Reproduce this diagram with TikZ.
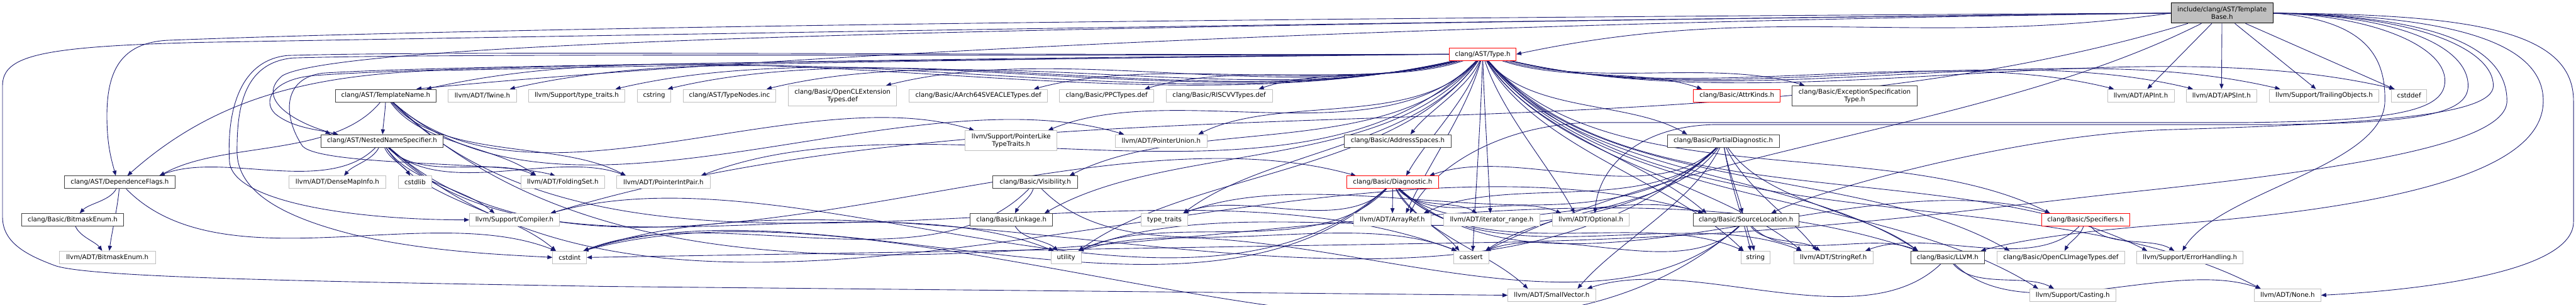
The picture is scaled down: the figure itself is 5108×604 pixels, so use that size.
\documentclass[tikz,border=0pt]{standalone}
\usepackage{fontspec}
\setmainfont{DejaVu Sans}
\usetikzlibrary{arrows.meta,calc}
\pgfdeclarelayer{bg}
\pgfsetlayers{bg,main}
\definecolor{edgec}{HTML}{191970}
\definecolor{grayb}{HTML}{BFBFBF}
\definecolor{darkb}{HTML}{404040}
\definecolor{redb}{HTML}{FF0000}
% shallow connector (nearly straight)
\newcommand\edgeS[2]{\draw[edg] let \p1=(#1.center),\p2=(#2.center),\p3=(#2.north east),\n1={atan2(\y2-\y1,\x2-\x1)},\n2={0.88*\n1-10.8},\n3={0.88*\n1+169.2},\n4={0.8*(\x3-\x2)},\n5={max(-\n4,min(\n4,0.15*(\x1-\x2)))} in (#1) to[out=\n2,in=\n3,looseness=0.8] ([xshift=\n5]#2.north);}
% connector that leaves the source steeply downwards
\newcommand\edgeA[2]{\draw[edg] let \p1=(#1.center),\p2=(#2.center),\p3=(#2.north east),\n1={atan2(\y2-\y1,\x2-\x1)},\n2={0.55*\n1-40.5},\n3={0.85*\n1+166.5},\n4={0.8*(\x3-\x2)},\n5={max(-\n4,min(\n4,0.15*(\x1-\x2)))} in (#1) to[out=\n2,in=\n3,looseness=0.8] ([xshift=\n5]#2.north);}
\newcommand\edgesFrom[2]{\foreach \tg in {#2} {\edgeA{#1}{\tg}}}
\newcommand\edgesShallow[2]{\foreach \tg in {#2} {\edgeS{#1}{\tg}}}
\begin{document}
\begin{tikzpicture}[x=0.1pt,y=0.1pt,
  box/.style={draw, fill=white, line width=0.11pt, inner sep=0pt, minimum height=2.5pt, font=\fontsize{1.28}{1.5}\selectfont, align=center},
  gb/.style={box, draw=grayb},
  db/.style={box, draw=darkb},
  rb/.style={box, draw=redb},
  edg/.style={color=edgec, line width=0.11pt, -{Triangle[length=1pt,width=0.8pt]}}]
\useasboundingbox (0,0) rectangle (5108,-604);
% row 0
\node[box, draw=black, fill=grayb, minimum width=20.2pt, minimum height=4pt] (root) at (4406,-26) {include/clang/AST/Template\\Base.h};
% row 1
\node[rb, minimum width=13.2pt] (type) at (2940,-107.5) {clang/AST/Type.h};
% row 2
\node[db, minimum width=20pt] (tn) at (765,-189.5) {clang/AST/TemplateName.h};
\node[gb, minimum width=13.5pt] (twine) at (956.5,-189.5) {llvm/ADT/Twine.h};
\node[gb, minimum width=19.1pt] (ttraitsh) at (1143.5,-189.5) {llvm/Support/type\_traits.h};
\node[gb, minimum width=6.6pt] (cstring) at (1297,-189.5) {cstring};
\node[gb, minimum width=18.3pt] (typenodes) at (1446.5,-189.5) {clang/AST/TypeNodes.inc};
\node[gb, minimum width=21.5pt, minimum height=4pt] (oclext) at (1670.5,-190) {clang/Basic/OpenCLExtension\\Types.def};
\node[gb, minimum width=27.4pt] (aarch) at (1940,-189.5) {clang/Basic/AArch64SVEACLETypes.def};
\node[gb, minimum width=18.7pt] (ppc) at (2194.5,-189.5) {clang/Basic/PPCTypes.def};
\node[gb, minimum width=21.1pt] (riscv) at (2417.5,-189.5) {clang/Basic/RISCVVTypes.def};
\node[rb, minimum width=17.2pt] (attr) at (3444,-189.5) {clang/Basic/AttrKinds.h};
\node[db, minimum width=24.7pt, minimum height=4pt] (exc) at (3677.5,-190) {clang/Basic/ExceptionSpecification\\Type.h};
\node[gb, minimum width=13.2pt] (apint) at (4245,-189.5) {llvm/ADT/APInt.h};
\node[gb, minimum width=14pt] (apsint) at (4405,-189.5) {llvm/ADT/APSInt.h};
\node[gb, minimum width=21.7pt] (trail) at (4608.5,-189.5) {llvm/Support/TrailingObjects.h};
\node[gb, minimum width=7pt] (cstddef) at (4777,-189.5) {cstddef};
% row 3
\node[db, minimum width=24.3pt] (nns) at (757.5,-279.5) {clang/AST/NestedNameSpecifier.h};
\node[gb, minimum width=18.2pt, minimum height=4pt] (pltt) at (2005,-279) {llvm/Support/PointerLike\\TypeTraits.h};
\node[gb, minimum width=18.3pt] (punion) at (2302.5,-279.5) {llvm/ADT/PointerUnion.h};
\node[db, minimum width=21.1pt] (addr) at (2771.5,-279.5) {clang/Basic/AddressSpaces.h};
\node[db, minimum width=22.2pt] (pd) at (3417,-279.5) {clang/Basic/PartialDiagnostic.h};
% row 4
\node[db, minimum width=21.9pt] (df) at (237.5,-361.5) {clang/AST/DependenceFlags.h};
\node[gb, minimum width=19.2pt] (dmi) at (669,-361.5) {llvm/ADT/DenseMapInfo.h};
\node[gb, minimum width=6.6pt] (cstdlib) at (823,-361.5) {cstdlib};
\node[gb, minimum width=16.6pt] (fold) at (1116,-361.5) {llvm/ADT/FoldingSet.h};
\node[gb, minimum width=18.5pt] (pip) at (1315.5,-361.5) {llvm/ADT/PointerIntPair.h};
\node[db, minimum width=16.8pt] (vis) at (2053,-361.5) {clang/Basic/Visibility.h};
\node[rb, minimum width=18.1pt] (diag) at (2761.5,-361.5) {clang/Basic/Diagnostic.h};
% row 5
\node[db, minimum width=20.2pt] (cbe) at (144,-436) {clang/Basic/BitmaskEnum.h};
\node[gb, minimum width=17.8pt] (comp) at (1020,-436) {llvm/Support/Compiler.h};
\node[db, minimum width=16.3pt] (link) at (2005.5,-436) {clang/Basic/Linkage.h};
\node[gb, minimum width=9.2pt] (tt) at (2309,-436) {type\_traits};
\node[gb, minimum width=15.4pt] (aref) at (2761,-436) {llvm/ADT/ArrayRef.h};
\node[gb, minimum width=19pt] (irange) at (2958,-436) {llvm/ADT/iterator\_range.h};
\node[gb, minimum width=15.3pt] (opt) at (3154.5,-436) {llvm/ADT/Optional.h};
\node[db, minimum width=21pt] (sl) at (3462,-436) {clang/Basic/SourceLocation.h};
\node[rb, minimum width=17.5pt] (spec) at (4135.5,-436) {clang/Basic/Specifiers.h};
% row 6
\node[gb, minimum width=19pt] (lbe) at (213,-510.5) {llvm/ADT/BitmaskEnum.h};
\node[gb, minimum width=6.7pt] (cstdint) at (1129.5,-510.5) {cstdint};
\node[gb, minimum width=6pt] (util) at (2114,-510.5) {utility};
\node[gb, minimum width=7pt] (cassert) at (2917,-510.5) {cassert};
\node[gb, minimum width=5.8pt] (string) at (3481,-510.5) {string};
\node[gb, minimum width=15.7pt] (sref) at (3635.5,-510.5) {llvm/ADT/StringRef.h};
\node[db, minimum width=14.6pt] (llvmh) at (3862,-510.5) {clang/Basic/LLVM.h};
\node[gb, minimum width=25.3pt] (oclimg) at (4086.5,-510.5) {clang/Basic/OpenCLImageTypes.def};
\node[gb, minimum width=21.1pt] (eh) at (4342.5,-510.5) {llvm/Support/ErrorHandling.h};
% row 7
\node[gb, minimum width=17.4pt] (sv) at (3077,-585.5) {llvm/ADT/SmallVector.h};
\node[gb, minimum width=17pt] (cast) at (4110,-585.5) {llvm/Support/Casting.h};
\node[gb, minimum width=13.2pt] (none) at (4536,-585.5) {llvm/ADT/None.h};

\begin{pgfonlayer}{bg}
% root edges
\draw[edg] (root) -- (apint);
\draw[edg] (root) -- (apsint);
\draw[edg] (root) -- (trail);
\draw[edg] (root) -- (cstddef);
\edgeS{root}{comp}
\edgeS{root}{cassert}
\draw[edg] (root.west) .. controls (3200,-32) and (1200,-46) .. (330,-80) .. controls (240,-86) and (212,-140) .. (212,-230) .. controls (212,-290) and (222,-320) .. ([xshift=-0.8pt]df.north);
\draw[edg] (root.west) .. controls (3000,-40) and (1200,-70) .. (400,-84) .. controls (80,-92) and (5,-110) .. (5,-170) -- (5,-430) .. controls (5,-480) and (50,-505) .. (110,-527) .. controls (180,-550) and (600,-558) .. (1200,-568) -- (sv.west);
\draw[edg] (root.west) to[out=188,in=12] (type.east);
\draw[edg] (root.west) .. controls (2500,-50) and (1300,-130) .. ([xshift=-4pt]tn.north east);
\draw[edg] (root.west) .. controls (2500,-48) and (700,-70) .. (560,-150) .. controls (500,-200) and (600,-250) .. ([xshift=3.5pt]nns.north west);
\draw[edg] (root.east) .. controls (4900,-28) and (5103,-60) .. (5103,-200) -- (5103,-440) .. controls (5103,-540) and (4800,-575) .. (none.east);
\draw[edg] (root.east) .. controls (4850,-30) and (5043,-80) .. (5043,-200) .. controls (5043,-300) and (4900,-400) .. (4300,-445) .. controls (4100,-460) and (3990,-480) .. ([xshift=-0.8pt]llvmh.north east);
\draw[edg] (root.east) .. controls (4850,-32) and (4971,-100) .. (4971,-200) .. controls (4971,-280) and (4700,-330) .. (4260,-377) .. controls (3900,-415) and (3600,-465) .. (3000,-480) -- (cstdint.east);
\draw[edg] (root.east) .. controls (4800,-30) and (4944,-100) .. (4944,-170) .. controls (4944,-230) and (4700,-245) .. (4305,-257) .. controls (4000,-265) and (3600,-380) .. ([xshift=5pt]sl.north);
\draw[edg] (root.east) .. controls (4750,-30) and (4894,-90) .. (4894,-170) .. controls (4894,-225) and (4800,-245) .. (4500,-247) -- (3400,-247) .. controls (3250,-250) and (3170,-330) .. ([xshift=0.8pt]opt.north);
\draw[edg] (root.east) .. controls (4700,-30) and (4848,-90) .. (4848,-160) .. controls (4848,-220) and (4750,-240) .. (4450,-243) -- (3150,-243) .. controls (2950,-250) and (2830,-350) .. ([xshift=3.5pt]aref.north);
\draw[edg] (root.east) .. controls (4700,-40) and (4730,-120) .. (4729,-200) .. controls (4728,-330) and (4400,-380) .. ([xshift=-1.5pt]eh.north);
% Type.h edges: round the left side
\draw[edg] (type.west) .. controls (2200,-112) and (900,-128) .. (620,-150) .. controls (540,-158) and (520,-200) .. (545,-225) .. controls (580,-255) and (640,-258) .. ([xshift=2pt]nns.north west);
\draw[edg] (type.west) .. controls (2000,-115) and (1100,-135) .. (860,-140) .. controls (600,-150) and (420,-200) .. ([xshift=1.5pt]df.north);
\draw[edg] (type.west) .. controls (2000,-110) and (900,-100) .. (570,-110) .. controls (470,-120) and (450,-230) .. (455,-320) .. controls (460,-400) and (700,-436) .. (comp.west);
\draw[edg] (type.west) .. controls (2000,-112) and (900,-105) .. (580,-115) .. controls (480,-125) and (470,-220) .. (470,-300) .. controls (470,-380) and (560,-430) .. (700,-465) .. controls (850,-500) and (1000,-505) .. (cstdint.west);
\draw[edg] (type.west) .. controls (2000,-118) and (900,-128) .. (640,-145) .. controls (560,-155) and (560,-230) .. (600,-290) .. controls (640,-330) and (1000,-320) .. ([xshift=-1.5pt]fold.north);
% Type.h edges: same row
\edgesShallow{type}{tn,twine,ttraitsh,cstring,typenodes,oclext,aarch,ppc,riscv,attr,exc,apint,apsint,trail,cstddef}
% Type.h edges: lower rows
\edgesFrom{type}{addr,diag,llvmh,link,pd,sl,spec,vis,aref,none,opt,pip,punion,sref,irange,cast,eh,pltt,cassert,string,tt,util,oclimg}
% TemplateName.h
\edgesFrom{tn}{df,nns,llvmh,fold,pip,punion,pltt,cassert}
% NestedNameSpecifier.h
\edgesFrom{nns}{df,diag,sl,dmi,fold,pip,comp,cstdint,cstdlib,util}
% DependenceFlags.h
\edgesFrom{df}{cbe,lbe,cstdint}
\edgeA{cbe}{lbe}
% Visibility / Linkage
\edgesFrom{vis}{link,cassert,cstdint}
\edgeA{link}{util}
% Diagnostic.h
\edgesFrom{diag}{sl,spec,aref,opt,sv,sref,irange,comp,cassert,cstdint,string,tt,util}
% PartialDiagnostic.h
\edgesFrom{pd}{diag,llvmh,sl,aref,sv,sref,cassert,cstdint,string,tt,util}
% SourceLocation.h
\edgesFrom{sl}{llvmh,sref,cassert,cstdint,string,util}
% Specifiers.h
\edgesFrom{spec}{sref,eh,oclimg}
% LLVM.h
\edgesFrom{llvmh}{cast,none,sv}
\end{pgfonlayer}
\end{tikzpicture}
\end{document}
